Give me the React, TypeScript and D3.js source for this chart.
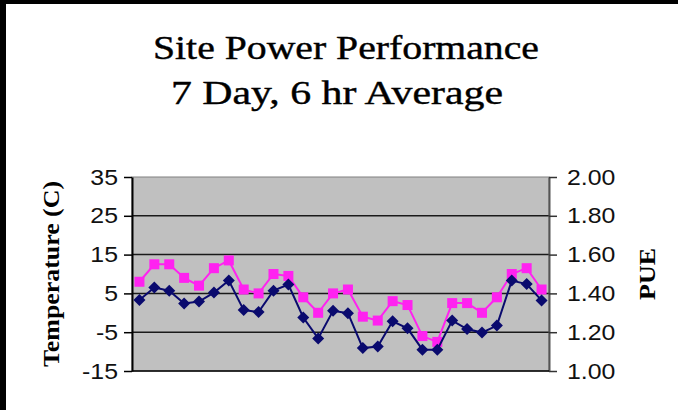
import React, {useEffect, useRef} from 'react';
import * as d3 from 'd3';

// 7 days x 4 six-hour periods
const periods = [1, 2, 3, 4, 5, 6, 7, 8, 9, 10, 11, 12, 13, 14, 15, 16, 17, 18, 19, 20, 21, 22, 23, 24, 25, 26, 27, 28];
const temperature = [3.3, 6.5, 5.7, 2.4, 2.9, 5.2, 8.3, 0.7, 0.2, 5.7, 7.3, -1.2, -6.6, 0.5, -0.1, -9.1, -8.7, -2.2, -4.0, -9.5, -9.5, -2.0, -4.2, -5.1, -3.3, 8.3, 7.4, 3.2];
const pue = [1.46, 1.55, 1.55, 1.48, 1.44, 1.53, 1.57, 1.42, 1.40, 1.50, 1.49, 1.38, 1.30, 1.40, 1.42, 1.28, 1.26, 1.36, 1.34, 1.18, 1.15, 1.35, 1.35, 1.30, 1.38, 1.50, 1.53, 1.42];
const tempTicks = [-15, -5, 5, 15, 25, 35];
const pueTicks = [1.0, 1.2, 1.4, 1.6, 1.8, 2.0];

// the original picture is a bit wider than tall, stretch text to match
const stretch = (sel: any, k: number) => {
    sel.each(function (this: SVGTextElement) {
        const w = this.getComputedTextLength();
        d3.select(this).attr('textLength', w * k).attr('lengthAdjust', 'spacingAndGlyphs');
    });
};

export default function App() {
    const ref = useRef<SVGSVGElement>(null);

    useEffect(() => {
        document.body.style.margin = '0';
        const width = 678, height = 410;
        const left = 132, right = 549, top = 177, bottom = 371;

        const svg = d3.select(ref.current);
        svg.selectAll('*').remove();
        svg.attr('width', width).attr('height', height);

        svg.append('rect').attr('width', width).attr('height', height).attr('fill', '#fff');
        // black frame on top / left
        svg.append('rect').attr('x', 0).attr('y', 0).attr('width', width).attr('height', 4).attr('fill', '#000');
        svg.append('rect').attr('x', 0).attr('y', 0).attr('width', 6).attr('height', height).attr('fill', '#000');

        const x = d3.scalePoint<number>().domain(periods).range([left, right]).padding(0.5);
        const yT = d3.scaleLinear().domain([-15, 35]).range([bottom, top]);
        const yP = d3.scaleLinear().domain([1, 2]).range([bottom, top]);

        const serif = '"Liberation Serif", "Times New Roman", serif';

        // title
        const title = svg.append('g')
            .attr('font-family', serif)
            .attr('text-anchor', 'middle')
            .attr('fill', '#000')
            .attr('stroke', '#000')
            .attr('stroke-width', 0.4);
        title.append('text').attr('x', 346).attr('y', 59).attr('font-size', 33)
            .attr('textLength', 386).attr('lengthAdjust', 'spacingAndGlyphs')
            .text('Site Power Performance');
        title.append('text').attr('x', 337).attr('y', 104).attr('font-size', 33)
            .attr('textLength', 332).attr('lengthAdjust', 'spacingAndGlyphs')
            .text('7 Day, 6 hr Average');

        // plot area
        svg.append('rect')
            .attr('x', left).attr('y', top)
            .attr('width', right - left).attr('height', bottom - top)
            .attr('fill', '#c0c0c0')
            .attr('stroke', '#808080')
            .attr('stroke-width', 1);

        svg.append('g')
            .selectAll('line')
            .data(tempTicks.filter(t => t > -15 && t < 35))
            .join('line')
            .attr('x1', left).attr('x2', right)
            .attr('y1', d => yT(d)).attr('y2', d => yT(d))
            .attr('stroke', '#1a1a1a')
            .attr('stroke-width', 1.5);

        const tickFont = '"Liberation Sans", Arial, sans-serif';

        const gl = svg.append('g')
            .attr('transform', `translate(${left},0)`)
            .call(d3.axisLeft(yT).tickValues(tempTicks).tickFormat(d => String(d)).tickSize(8).tickSizeOuter(0).tickPadding(6));
        gl.select('.domain').attr('stroke', '#000').attr('stroke-width', 2);
        gl.selectAll('.tick line').attr('stroke', '#000').attr('stroke-width', 1.5);
        gl.selectAll('.tick text').attr('font-family', tickFont).attr('font-size', 22).attr('fill', '#111');
        stretch(gl.selectAll('.tick text'), 1.13);

        const gr = svg.append('g')
            .attr('transform', `translate(${right},0)`)
            .call(d3.axisRight(yP).tickValues(pueTicks).tickFormat(d3.format('.2f')).tickSize(8).tickSizeOuter(0).tickPadding(10));
        gr.select('.domain').attr('stroke', '#555').attr('stroke-width', 2);
        gr.selectAll('.tick line').attr('stroke', '#333').attr('stroke-width', 1.5);
        gr.selectAll('.tick text').attr('font-family', tickFont).attr('font-size', 22).attr('fill', '#111');
        stretch(gr.selectAll('.tick text'), 1.13);

        // bottom (category) axis line
        svg.append('line')
            .attr('x1', left).attr('x2', right)
            .attr('y1', bottom).attr('y2', bottom)
            .attr('stroke', '#000').attr('stroke-width', 1.5);

        // axis titles
        svg.append('text')
            .attr('transform', `translate(59,274) rotate(-90)`)
            .attr('text-anchor', 'middle')
            .attr('font-family', serif)
            .attr('font-weight', 'bold')
            .attr('font-size', 24)
            .attr('textLength', 186).attr('lengthAdjust', 'spacingAndGlyphs')
            .text('Temperature (C)');
        svg.append('text')
            .attr('transform', `translate(655,274) rotate(-90)`)
            .attr('text-anchor', 'middle')
            .attr('font-family', serif)
            .attr('font-weight', 'bold')
            .attr('font-size', 24)
            .attr('textLength', 52).attr('lengthAdjust', 'spacingAndGlyphs')
            .text('PUE');

        // PUE series (magenta squares)
        const pink = '#ff22f0';
        svg.append('path')
            .datum(pue)
            .attr('fill', 'none')
            .attr('stroke', pink)
            .attr('stroke-width', 2)
            .attr('d', d3.line<number>().x((d, i) => x(periods[i])!).y(d => yP(d)));
        svg.append('g')
            .selectAll('rect')
            .data(pue)
            .join('rect')
            .attr('x', (d, i) => x(periods[i])! - 5)
            .attr('y', d => yP(d) - 5)
            .attr('width', 10).attr('height', 10)
            .attr('fill', pink);

        // Temperature series (navy diamonds)
        const navy = '#0a0a6e';
        svg.append('path')
            .datum(temperature)
            .attr('fill', 'none')
            .attr('stroke', navy)
            .attr('stroke-width', 2)
            .attr('d', d3.line<number>().x((d, i) => x(periods[i])!).y(d => yT(d)));
        svg.append('g')
            .selectAll('path')
            .data(temperature)
            .join('path')
            .attr('transform', (d, i) => `translate(${x(periods[i])},${yT(d)})`)
            .attr('d', 'M0,-6L6,0L0,6L-6,0Z')
            .attr('fill', navy);
    }, []);

    return (
        <div>
            <svg ref={ref}/>
        </div>
    );
}
